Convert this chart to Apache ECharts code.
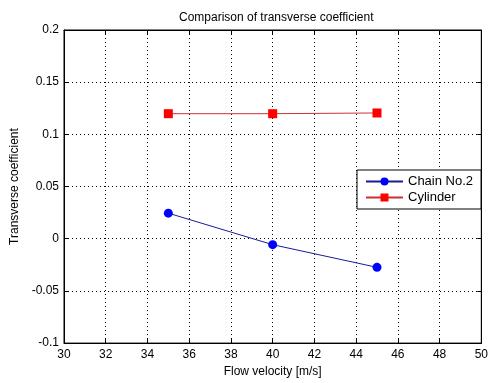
<!DOCTYPE html>
<html><head><meta charset="utf-8">
<script src="https://cdn.jsdelivr.net/npm/echarts@6/dist/echarts.min.js"></script>
<style>html,body{margin:0;padding:0;background:#fff}#c{width:491px;height:383px}</style>
</head><body><div id="c"></div>
<script>
const velocities = [35, 40, 45];
const chainValues = [0.0245, -0.0057, -0.0274];
const cylinderValues = [0.1198, 0.1198, 0.1205];
const xTicks = [30, 32, 34, 36, 38, 40, 42, 44, 46, 48, 50];
const yTickLabels = {'-0.1':'-0.1','-0.05':'-0.05','0':'0','0.05':'0.05','0.1':'0.1','0.15':'0.15','0.2':'0.2'};

const font = 'Liberation Sans, Arial, sans-serif';
const chart = echarts.init(document.getElementById('c'));
const split = {show:true, lineStyle:{color:'#000', type:[1,3], width:1}};
chart.setOption({
  animation:false,
  title:{text:'Comparison of transverse coefficient', left:174, top:7,
    textStyle:{fontFamily:font, fontSize:12, fontWeight:'normal', color:'#000'}},
  grid:{left:64, right:8, top:30, bottom:35, show:true, borderColor:'#000', borderWidth:1},
  legend:{left:357, top:170, orient:'vertical', itemWidth:37, itemHeight:10, itemGap:3,
    padding:[5,8,5,8], borderColor:'#000', borderWidth:1, backgroundColor:'#fff',
    textStyle:{fontFamily:font, fontSize:13, color:'#000'},
    data:['Chain No.2','Cylinder']},
  xAxis:[{type:'value', min:30, max:50, interval:2, position:'bottom',
    name:'Flow velocity [m/s]', nameLocation:'middle', nameGap:21,
    nameTextStyle:{fontFamily:font, fontSize:12, color:'#000'},
    axisLine:{onZero:false, lineStyle:{color:'#000'}}, axisTick:{inside:true, length:4, lineStyle:{color:'#000'}},
    axisLabel:{fontFamily:font, fontSize:12, color:'#000', margin:6},
    splitLine:split},
    {type:'value', min:30, max:50, interval:2, position:'top',
    axisLine:{onZero:false, lineStyle:{color:'#000'}}, axisTick:{inside:true, length:4, lineStyle:{color:'#000'}},
    axisLabel:{show:false}, splitLine:{show:false}}],
  yAxis:[{type:'value', min:-0.1, max:0.2, interval:0.05, position:'left',
    name:'Transverse coefficient', nameLocation:'middle', nameGap:39,
    nameTextStyle:{fontFamily:font, fontSize:12, color:'#000'},
    axisLine:{show:true, onZero:false, lineStyle:{color:'#000'}}, axisTick:{show:true, inside:true, length:4, lineStyle:{color:'#000'}},
    axisLabel:{fontFamily:font, fontSize:12, color:'#000', margin:5,
      formatter:v=>{const k=String(Math.round(v*100)/100); return yTickLabels[k]!==undefined?yTickLabels[k]:k;}},
    splitLine:split},
    {type:'value', min:-0.1, max:0.2, interval:0.05, position:'right',
    axisLine:{show:true, onZero:false, lineStyle:{color:'#000'}}, axisTick:{show:true, inside:true, length:4, lineStyle:{color:'#000'}},
    axisLabel:{show:false}, splitLine:{show:false}}],
  series:[
    {name:'Chain No.2', type:'line', data:velocities.map((v,i)=>[v,chainValues[i]]),
      symbol:'circle', symbolSize:9, lineStyle:{color:'#1a1a9a', width:1},
      itemStyle:{color:'#0000ff'}, color:'#0000ff'},
    {name:'Cylinder', type:'line', data:velocities.map((v,i)=>[v,cylinderValues[i]]),
      symbol:'rect', symbolSize:9, lineStyle:{color:'#cc3030', width:1},
      itemStyle:{color:'#ff0000'}, color:'#ff0000'}
  ]
});
</script></body></html>
